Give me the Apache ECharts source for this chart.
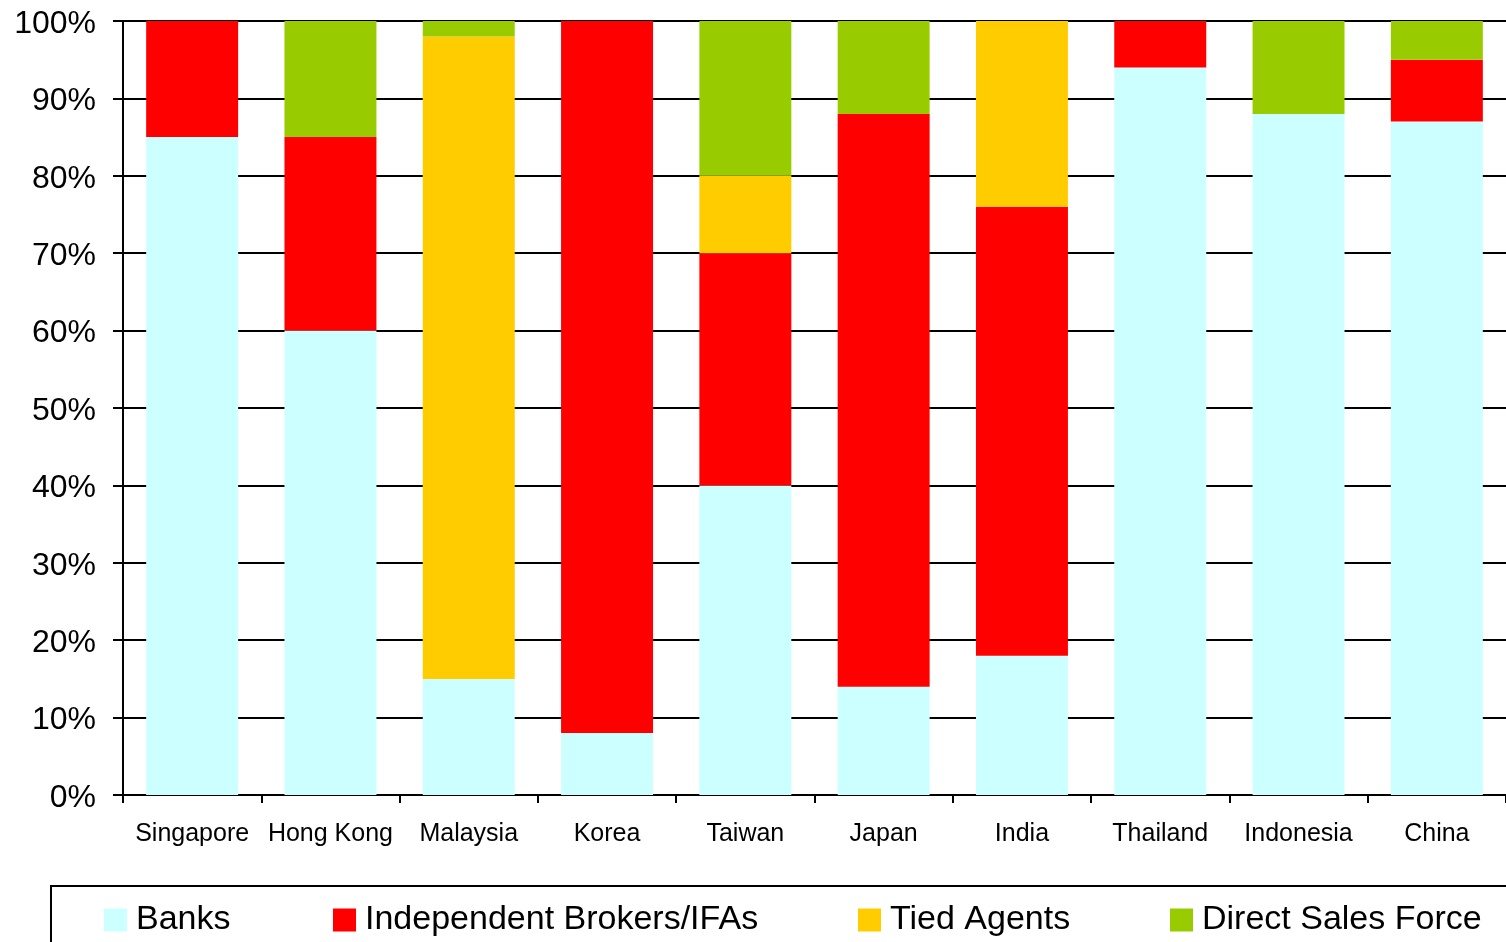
<!DOCTYPE html>
<html>
<head>
<meta charset="utf-8">
<script src="https://cdn.jsdelivr.net/npm/echarts@6/dist/echarts.min.js"></script>
<style>
html,body{margin:0;padding:0;background:#fff;}
#chart{width:1506px;height:942px;}
</style>
</head>
<body>
<div id="chart"></div>
<script>
const categories = ['Singapore','Hong Kong','Malaysia','Korea','Taiwan','Japan','India','Thailand','Indonesia','China'];
const seriesNames = ['Banks','Independent Brokers/IFAs','Tied Agents','Direct Sales Force'];
const banks  = [85, 60, 15,  8, 40, 14, 18, 94, 88, 87];
const ifas   = [15, 25,  0, 92, 30, 74, 58,  6,  0,  8];
const tied   = [ 0,  0, 83,  0, 10,  0, 24,  0,  0,  0];
const direct = [ 0, 15,  2,  0, 20, 12,  0,  0, 12,  5];
const colors = ['#CCFFFF','#FF0000','#FFCC00','#99CC00'];
const legendLefts = [99, 328, 853, 1165];

const font = 'Liberation Sans, Arial, sans-serif';
const dataSets = [banks, ifas, tied, direct];

const chart = echarts.init(document.getElementById('chart'));
const option = {
  animation: false,
  backgroundColor: '#fff',
  grid: {left: 123, right: 0, top: 21, bottom: 147, containLabel: false},
  legend: seriesNames.map((n, i) => ({
    data: [n],
    left: legendLefts[i],
    top: 898,
    itemWidth: 23,
    itemHeight: 23,
    itemGap: 10,
    icon: 'rect',
    textStyle: {fontFamily: font, fontSize: 34, color: '#000', padding: [0, 0, 0, 4]},
    selectedMode: false
  })),
  xAxis: {
    type: 'category',
    data: categories,
    axisLine: {lineStyle: {color: '#000', width: 2}},
    axisTick: {show: true, interval: 0, length: 8, lineStyle: {color: '#000', width: 2}, alignWithLabel: false},
    axisLabel: {interval: 0, fontFamily: font, fontSize: 25, color: '#000', margin: 27}
  },
  yAxis: {
    type: 'value',
    min: 0, max: 100, interval: 10,
    axisLine: {show: true, lineStyle: {color: '#000', width: 2}},
    axisTick: {show: true, length: 10, lineStyle: {color: '#000', width: 2}},
    axisLabel: {fontFamily: font, fontSize: 32, color: '#000', margin: 27, formatter: '{value}%', lineHeight: 32, verticalAlign: 'top', padding: [-13, 0, 0, 0]},
    splitLine: {show: true, lineStyle: {color: '#000', width: 2}}
  },
  series: seriesNames.map((n, i) => ({
    name: n,
    type: 'bar',
    stack: 'total',
    barCategoryGap: '33.5%',
    data: dataSets[i],
    itemStyle: {color: colors[i]}
  })),
  graphic: [{
    type: 'rect',
    shape: {x: 51, y: 886, width: 1500, height: 100},
    style: {fill: 'none', stroke: '#000', lineWidth: 2},
    z: 0
  }]
};
chart.setOption(option);
</script>
</body>
</html>
